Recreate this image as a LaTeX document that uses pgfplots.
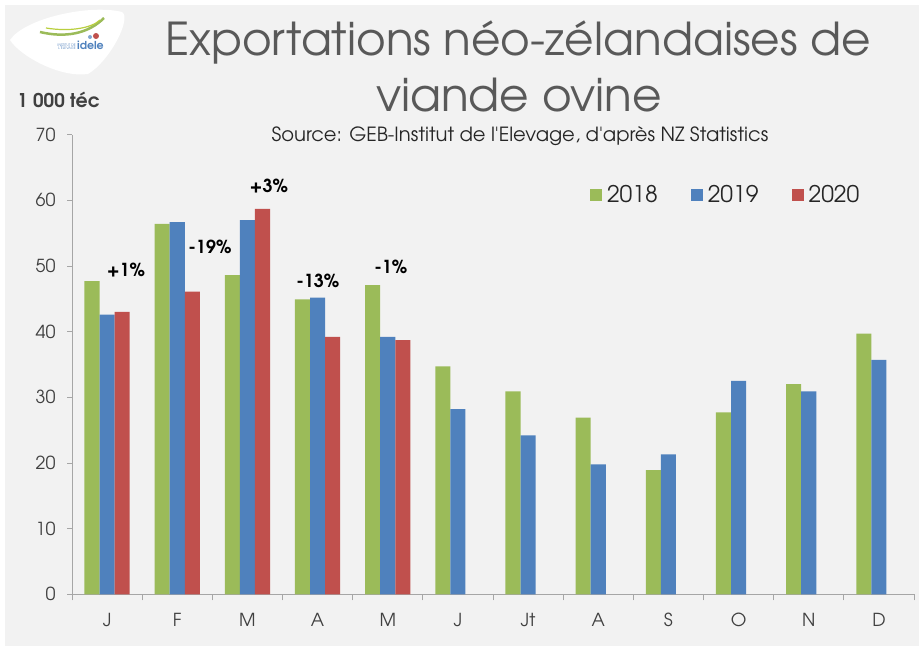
\documentclass[border=0pt]{standalone}
\usepackage{pgfplots}
\pgfplotsset{compat=1.18}
\usepackage{fontspec}
\setmainfont{TeX Gyre Adventor}
\definecolor{cg}{HTML}{9BBB59}
\definecolor{cb}{HTML}{4F81BD}
\definecolor{cr}{HTML}{C0504D}
\definecolor{bgc}{HTML}{F2F2F2}
\definecolor{txt}{HTML}{404040}
\definecolor{ttl}{HTML}{595959}
\definecolor{axc}{HTML}{A6A6A6}
\pgfplotsset{sqlegend/.style={legend image code/.code={\fill[##1] (0bp,-6bp) rectangle (12bp,6bp); \path (15bp,0bp);}}}
\begin{document}
\begin{tikzpicture}
\useasboundingbox (0,0) rectangle (919bp,646bp);
\fill[white] (0,0) rectangle (919bp,646bp);
\fill[bgc] (5bp,0) rectangle (919bp,641bp);
% logo
\fill[white] (10bp,606bp) .. controls (25bp,628bp) and (90bp,642bp) .. (122bp,634bp) .. controls (132bp,628bp) and (110bp,585bp) .. (88bp,572bp) .. controls (60bp,568bp) and (20bp,590bp) .. (10bp,606bp) -- cycle;
\draw[cg, line width=2.5bp] (40bp,614bp) .. controls (65bp,608bp) and (88bp,612bp) .. (104bp,628bp);
\draw[cg!70!yellow, line width=1.2bp] (46bp,618bp) .. controls (70bp,614bp) and (92bp,618bp) .. (100bp,626bp);
\fill[cr] (96bp,610bp) circle (3bp);
\fill[cb!70] (90bp,609bp) circle (2bp);
\node[anchor=base west, inner sep=0, text=cb, font=\bfseries\fontsize{11}{11}\selectfont] at (77bp,596bp) {idele};
\node[anchor=base east, inner sep=0, text=cb, font=\fontsize{3.5}{4}\selectfont, align=right] at (76bp,596bp) {INSTITUT DE\\L'ÉLEVAGE};
% titles
\node[anchor=base, inner sep=0, text=ttl, font=\fontsize{45.5}{50}\selectfont] at (518bp,590bp) {Exportations néo-zélandaises de};
\node[anchor=base, inner sep=0, text=ttl, font=\fontsize{45.5}{50}\selectfont] at (519bp,534bp) {viande ovine};
\node[anchor=base, inner sep=0, text=black!85, font=\fontsize{19.6}{21}\selectfont] at (520bp,504.3bp) {Source: GEB-Institut de l\textquotesingle Elevage, d\textquotesingle après NZ Statistics};
\node[anchor=base west, inner sep=0, text=txt, font=\bfseries\fontsize{19}{20}\selectfont] at (17bp,538bp) {1 000 téc};
\begin{axis}[
  at={(72bp,51.7bp)}, anchor=south west,
  scale only axis, width=842bp, height=459.6bp,
  xmin=-0.5, xmax=11.5, ymin=0, ymax=70,
  ybar=0pt, bar width=0.215,
  axis x line*=bottom, axis y line*=left,
  axis line style={axc, line width=0.8bp, -},
  xtick={0,...,11},
  xticklabels={J,F,M,A,M,J,Jt,A,S,O,N,D},
  minor xtick={-0.5,0.5,...,11.5},
  ytick={0,10,...,70},
  tick align=outside,
  major x tick style={draw=none},
  minor x tick style={axc, line width=0.8bp},
  y tick style={axc, line width=0.8bp},
  major tick length=5bp, minor tick length=6bp,
  tick label style={font=\fontsize{18}{20}\selectfont, text=txt},
  /pgf/number format/assume math mode=true,
  xticklabel style={yshift=-10bp},
  yticklabel style={xshift=-8bp},
  legend style={at={(0.615,0.869)}, anchor=west, draw=none, fill=none, inner sep=0pt,
    legend columns=3, font=\fontsize{23}{24}\selectfont, text=black!85,
    /tikz/every even column/.append style={column sep=31bp}},
  clip=false,
]
\addplot[fill=cg, draw=none, sqlegend] coordinates {(0,47.7) (1,56.4) (2,48.6) (3,44.9) (4,47.1) (5,34.7) (6,30.9) (7,26.9) (8,18.9) (9,27.7) (10,32.0) (11,39.7)};
\addplot[fill=cb, draw=none, sqlegend] coordinates {(0,42.6) (1,56.7) (2,57.0) (3,45.2) (4,39.2) (5,28.2) (6,24.2) (7,19.8) (8,21.3) (9,32.5) (10,30.9) (11,35.7)};
\addplot[fill=cr, draw=none, sqlegend] coordinates {(0,43.0) (1,46.1) (2,58.7) (3,39.2) (4,38.7)};
\legend{2018,2019,2020}
\node[anchor=base, font=\bfseries\fontsize{18}{20}\selectfont] at (axis cs:0.269,48.4) {+1\%};
\node[anchor=base, font=\bfseries\fontsize{18}{20}\selectfont] at (axis cs:1.466,51.9) {-19\%};
\node[anchor=base, font=\bfseries\fontsize{18}{20}\selectfont] at (axis cs:2.306,61.2) {+3\%};
\node[anchor=base, font=\bfseries\fontsize{18}{20}\selectfont] at (axis cs:3.004,46.8) {-13\%};
\node[anchor=base, font=\bfseries\fontsize{18}{20}\selectfont] at (axis cs:4.044,48.8) {-1\%};
\end{axis}
\end{tikzpicture}
\end{document}
